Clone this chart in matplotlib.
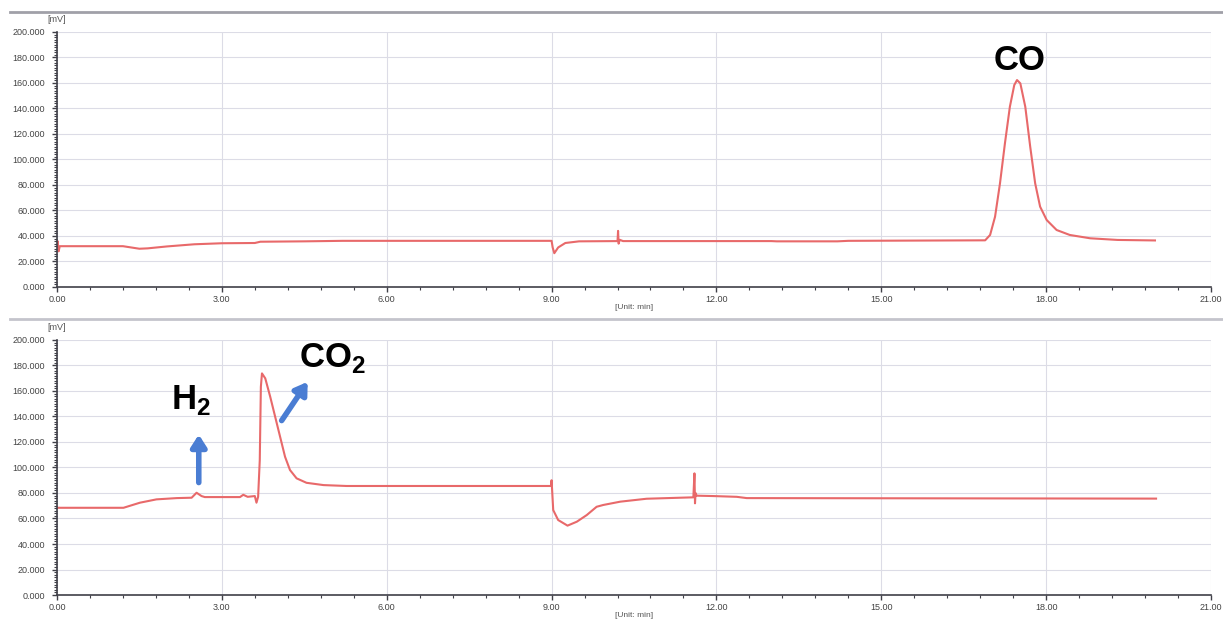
import numpy as np
import matplotlib.pyplot as plt
from matplotlib.ticker import MultipleLocator, FormatStrFormatter

plt.rcParams['font.family'] = ['Liberation Sans', 'DejaVu Sans']
plt.rcParams['mathtext.fontset'] = 'custom'
plt.rcParams['mathtext.bf'] = 'Liberation Sans:bold'
plt.rcParams['mathtext.rm'] = 'Liberation Sans'

# top chromatogram (CO channel): time [min], signal [mV]
t_top = [0.00, 0.01, 0.03, 0.05, 1.20, 1.35, 1.50, 1.65, 2.00, 2.50, 3.00, 3.60, 3.70,
         4.50, 5.20, 9.00, 9.02, 9.05, 9.12, 9.25, 9.50, 10.20, 10.21, 10.22, 10.24,
         10.30, 13.00, 13.10, 14.20, 14.40, 16.89, 16.98, 17.07, 17.16, 17.25, 17.34,
         17.42, 17.47, 17.53, 17.62, 17.71, 17.80, 17.89, 18.01, 18.19, 18.43, 18.80,
         19.30, 19.98]
v_top = [32.0, 36.0, 28.0, 32.0, 32.0, 31.0, 30.0, 30.3, 31.8, 33.5, 34.3, 34.5, 35.5,
         35.8, 36.2, 36.2, 31.0, 26.5, 31.0, 34.5, 35.8, 36.0, 44.0, 34.0, 37.0,
         36.0, 36.0, 35.8, 35.8, 36.2, 36.6, 40.8, 55.1, 81.3, 112.7, 141.4,
         158.4, 162.3, 159.7, 141.4, 110.0, 81.3, 63.0, 52.5, 44.7, 40.8, 38.2,
         36.9, 36.5]

# bottom chromatogram (H2 / CO2 channel)
t_bot = [0.00, 1.21, 1.51, 1.81, 2.18, 2.45, 2.54, 2.63, 2.69, 3.33, 3.39, 3.47, 3.60,
         3.63, 3.66, 3.69, 3.71, 3.73, 3.79, 3.88, 3.97, 4.06, 4.15, 4.24, 4.36, 4.54,
         4.85, 5.27, 6.60, 8.99, 9.00, 9.03, 9.12, 9.29, 9.46, 9.64, 9.82, 9.94, 10.25,
         10.73, 11.34, 11.58, 11.60, 11.61, 11.62, 11.64, 11.94, 12.37, 12.55, 20.00]
v_bot = [68.4, 68.4, 72.4, 75.0, 76.0, 76.3, 80.2, 77.6, 76.8, 76.8, 78.6, 77.0, 77.6,
         72.4, 77.0, 105.8, 163.3, 173.8, 169.9, 155.5, 139.8, 124.1, 108.4, 98.0, 91.5, 88.0,
         86.2, 85.5, 85.5, 85.5, 90.0, 66.6, 58.8, 54.4, 57.5, 62.7, 69.2, 70.6, 73.2,
         75.5, 76.3, 76.6, 95.4, 71.9, 80.0, 77.9, 77.6, 77.0, 76.0, 75.6]

line_color = '#e8696a'
arrow_color = '#4a7dd3'

fig = plt.figure(figsize=(12.23, 6.22), dpi=100)
ax_top = fig.add_axes([0.0466, 0.5386, 0.9436, 0.41])
ax_bot = fig.add_axes([0.0466, 0.0434, 0.9436, 0.41])

# gray separator bars
fig.add_artist(plt.Line2D([0.008, 1.0], [1 - 12 / 622, 1 - 12 / 622], color='#a0a0a8', lw=2))
fig.add_artist(plt.Line2D([0.008, 1.0], [1 - 319 / 622, 1 - 319 / 622], color='#c4c4cc', lw=2))

for ax, t, v in [(ax_top, t_top, v_top), (ax_bot, t_bot, v_bot)]:
    ax.plot(t, v, color=line_color, lw=1.5)
    ax.set_xlim(0, 21)
    ax.set_ylim(0, 200)
    ax.xaxis.set_major_locator(MultipleLocator(3))
    ax.xaxis.set_minor_locator(MultipleLocator(0.6))
    ax.yaxis.set_major_locator(MultipleLocator(20))
    ax.yaxis.set_minor_locator(MultipleLocator(2))
    ax.xaxis.set_major_formatter(FormatStrFormatter('%.2f'))
    ax.yaxis.set_major_formatter(FormatStrFormatter('%.3f'))
    ax.grid(True, which='major', color='#dcdce6', lw=0.8)
    ax.set_axisbelow(True)
    for s in ['top', 'right']:
        ax.spines[s].set_visible(False)
    for s in ['left', 'bottom']:
        ax.spines[s].set_color('#404048')
        ax.spines[s].set_linewidth(1.2)
    ax.tick_params(which='major', length=3.5, width=1, color='#404048',
                   labelsize=6.5, labelcolor='#444444', pad=2)
    ax.tick_params(axis='y', which='major', pad=5)
    ax.tick_params(which='minor', length=2.5, width=0.8, color='#404048')
    ax.text(0, 1.03, '[mV]', transform=ax.transAxes, ha='center', va='bottom',
            fontsize=6.5, color='#555555')
    ax.set_xlabel('[Unit: min]', fontsize=6, color='#555555', labelpad=0)

# annotations
ax_top.text(17.52, 178, 'CO', fontsize=25, fontweight='bold', ha='center', va='center')
ax_bot.text(2.44, 153, r'H$_\mathbf{2}$', fontsize=25, fontweight='bold', ha='center', va='center')
ax_bot.text(5.02, 186, r'CO$_\mathbf{2}$', fontsize=25, fontweight='bold', ha='center', va='center')
ax_bot.annotate('', xy=(2.58, 128), xytext=(2.58, 86),
                arrowprops=dict(arrowstyle='-|>,head_width=0.45,head_length=0.7',
                                color=arrow_color, lw=4))
ax_bot.annotate('', xy=(4.59, 169), xytext=(4.06, 135),
                arrowprops=dict(arrowstyle='-|>,head_width=0.45,head_length=0.7',
                                color=arrow_color, lw=4))

plt.savefig('out.png', dpi=100)
